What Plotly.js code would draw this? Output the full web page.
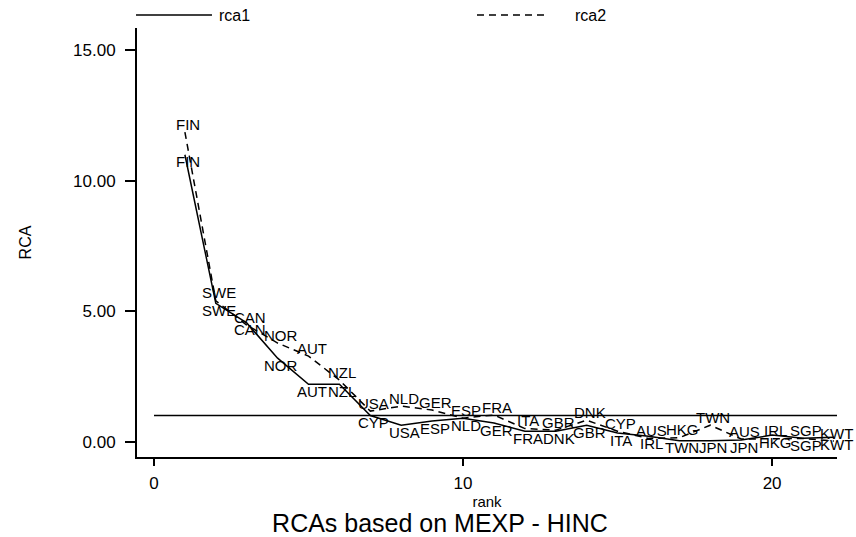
<!DOCTYPE html>
<html>
<head>
<meta charset="utf-8">
<script src="https://cdn.plot.ly/plotly-3.0.1.min.js"></script>
<style>html,body{margin:0;padding:0;background:#fff;}#chart{width:856px;height:537px;}</style>
</head>
<body>
<div id="chart"></div>
<script>
// rank positions
const ranks = [1,2,3,4,5,6,7,8,9,10,11,12,13,14,15,16,17,18,19,20,21,22];
// rca1 (solid) labels and values
const labels1 = ["FIN","SWE","CAN","NOR","AUT","NZL","CYP","USA","ESP","NLD","GER","FRA","DNK","GBR","ITA","IRL","TWN","JPN","JPN","HKG","SGP","KWT"];
const rca1 = [11.0,5.3,4.55,3.2,2.2,2.2,1.0,0.63,0.79,0.9,0.71,0.4,0.4,0.63,0.33,0.21,0.03,0.03,0.06,0.25,0.13,0.17];
// rca2 (dashed) labels and values
const labels2 = ["FIN","SWE","CAN","NOR","AUT","NZL","USA","NLD","GER","ESP","FRA","ITA","GBR","DNK","CYP","AUS","HKG","TWN","AUS","IRL","SGP","KWT"];
const rca2 = [11.87,5.4,4.47,3.78,3.28,2.36,1.17,1.36,1.21,0.9,1.02,0.5,0.44,0.82,0.4,0.12,0.15,0.63,0.1,0.12,0.12,0.02];
// reference level
const refLevel = 1;
const xTicks = [0,10,20];
const yTicks = [0,5,10,15];

const FONT = "Arial, 'Liberation Sans', sans-serif";

const traces = [
  {x: ranks, y: rca1, mode: 'lines', name: 'rca1', line: {color: '#000', width: 1.5}, showlegend: false, hoverinfo: 'skip'},
  {x: ranks, y: rca2, mode: 'lines', name: 'rca2', line: {color: '#000', width: 1.5, dash: '7px,5px'}, showlegend: false, hoverinfo: 'skip'}
];

const annotations = [];
ranks.forEach((r, i) => {
  annotations.push({x: r, y: rca1[i], text: labels1[i], showarrow: false, yshift: -7, xshift: 3, xanchor: 'center', yanchor: 'middle', font: {family: FONT, size: 15, color: '#000'}});
  annotations.push({x: r, y: rca2[i], text: labels2[i], showarrow: false, yshift: 8, xshift: 3, xanchor: 'center', yanchor: 'middle', font: {family: FONT, size: 15, color: '#000'}});
});
// legend texts
annotations.push({xref: 'paper', yref: 'paper', x: 0.1143, y: 1.0303, text: 'rca1', showarrow: false, xanchor: 'left', yanchor: 'middle', font: {family: FONT, size: 16, color: '#000'}});
annotations.push({xref: 'paper', yref: 'paper', x: 0.6229, y: 1.0303, text: 'rca2', showarrow: false, xanchor: 'left', yanchor: 'middle', font: {family: FONT, size: 16, color: '#000'}});

const shapes = [
  {type: 'line', xref: 'x', yref: 'y', x0: 0, x1: 22.1, y0: refLevel, y1: refLevel, line: {color: '#000', width: 1.5}},
  {type: 'line', xref: 'paper', yref: 'paper', x0: -0.0014, x1: 0.1071, y0: 1.0303, y1: 1.0303, line: {color: '#000', width: 1.3}},
  {type: 'line', xref: 'paper', yref: 'paper', x0: 0.4857, x1: 0.5857, y0: 1.0303, y1: 1.0303, line: {color: '#000', width: 1.3, dash: '7px,5px'}}
];

const layout = {
  width: 856, height: 537,
  margin: {l: 137, r: 19, t: 28, b: 80},
  paper_bgcolor: '#fff', plot_bgcolor: '#fff',
  showlegend: false,
  font: {family: FONT, color: '#000'},
  title: {text: 'RCAs based on MEXP - HINC', font: {family: FONT, size: 25, color: '#000'}, xref: 'container', yref: 'container', x: 0.514, y: 0.026, xanchor: 'center', yanchor: 'middle'},
  xaxis: {
    range: [-0.55, 22.1], tickvals: xTicks, ticktext: xTicks.map(String),
    showline: true, linecolor: '#000', linewidth: 2, ticks: 'outside', ticklen: 7, tickwidth: 2, tickcolor: '#000',
    showgrid: false, zeroline: false, tickfont: {size: 17, family: FONT, color: '#000'}, ticklabelstandoff: 3,
    title: {text: 'rank', font: {size: 15, family: FONT, color: '#000'}, standoff: 0}, automargin: false
  },
  yaxis: {
    range: [-0.59, 15.86], tickvals: yTicks, tickformat: '.2f',
    showline: true, linecolor: '#000', linewidth: 2, ticks: 'outside', ticklen: 10, tickwidth: 2, tickcolor: '#000',
    showgrid: false, zeroline: false, tickfont: {size: 17, family: FONT, color: '#000'}, ticklabelstandoff: 6,
    title: {text: 'RCA', font: {size: 16, family: FONT, color: '#000'}, standoff: 37}, automargin: false
  },
  annotations: annotations,
  shapes: shapes
};

Plotly.newPlot('chart', traces, layout, {displayModeBar: false, staticPlot: true});
</script>
</body>
</html>
